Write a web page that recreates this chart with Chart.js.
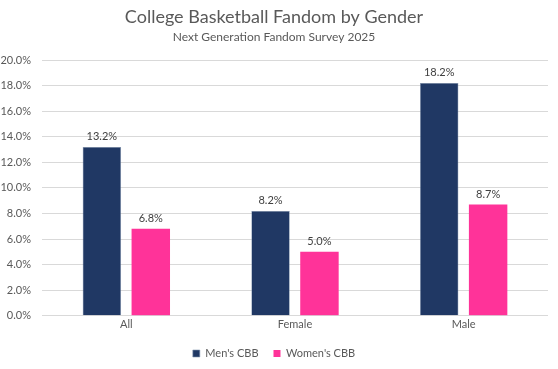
<!DOCTYPE html>
<html>
<head>
<meta charset="utf-8">
<script src="https://cdn.jsdelivr.net/npm/chart.js@4"></script>
<style>
  html, body { margin: 0; padding: 0; background: #fff; }
  #wrap { width: 558px; height: 369px; }
</style>
</head>
<body>
<div id="wrap"><canvas id="myChart"></canvas></div>
<script>
const groups = ['All', 'Female', 'Male'];
const mensCBB = [13.2, 8.2, 18.2];
const womensCBB = [6.8, 5.0, 8.7];
const yTicks = [0, 2, 4, 6, 8, 10, 12, 14, 16, 18, 20];

const grey = '#595959';
const fontName = 'Lato, "Open Sans", sans-serif';

// draws the % value above each bar
const barLabels = {
  id: 'barLabels',
  afterDatasetsDraw(chart) {
    const ctx = chart.ctx;
    ctx.save();
    ctx.font = '11px ' + fontName;
    ctx.fillStyle = '#404040';
    ctx.textAlign = 'center';
    ctx.textBaseline = 'bottom';
    chart.data.datasets.forEach((ds, i) => {
      chart.getDatasetMeta(i).data.forEach((bar, j) => {
        ctx.fillText(ds.data[j].toFixed(1) + '%', bar.x, bar.y - 5);
      });
    });
    ctx.restore();
  }
};

const data = {
  labels: groups,
  datasets: [{
    label: "Men's CBB",
    data: mensCBB,
    backgroundColor: '#203864',
    borderColor: '#8497b0',
    borderWidth: 0.6,
    categoryPercentage: 0.58,
    barPercentage: 0.786
  }, {
    label: "Women's CBB",
    data: womensCBB,
    backgroundColor: '#ff3399',
    categoryPercentage: 0.58,
    barPercentage: 0.786
  }]
};

const config = {
  type: 'bar',
  data: data,
  plugins: [barLabels],
  options: {
    responsive: true,
    maintainAspectRatio: false,
    animation: false,
    layout: { padding: { left: 0, right: 10, top: 4, bottom: 0 } },
    plugins: {
      title: {
        display: true,
        text: 'College Basketball Fandom by Gender',
        color: grey,
        font: { family: fontName, size: 18, weight: 'normal' },
        padding: { top: 2, bottom: 2 }
      },
      subtitle: {
        display: true,
        text: 'Next Generation Fandom Survey 2025',
        color: grey,
        font: { family: fontName, size: 12, weight: 'normal' },
        padding: { top: 0, bottom: 16 }
      },
      legend: {
        position: 'bottom',
        labels: {
          color: grey,
          font: { family: fontName, size: 11 },
          boxWidth: 7,
          boxHeight: 7,
          padding: 15
        }
      },
      tooltip: { enabled: false }
    },
    scales: {
      x: {
        grid: { display: false, drawTicks: false },
        border: { display: false },
        ticks: { color: grey, font: { family: fontName, size: 11 }, padding: 2 }
      },
      y: {
        min: 0,
        max: 20,
        afterFit(scale) { scale.width = 42; },
        afterBuildTicks(scale) { scale.ticks = yTicks.map(v => ({ value: v })); },
        grid: { color: '#d9d9d9', drawTicks: false },
        border: { display: false },
        ticks: {
          color: grey,
          font: { family: fontName, size: 11 },
          padding: 11,
          callback: v => v.toFixed(1) + '%'
        }
      }
    }
  }
};

const ctx = document.getElementById('myChart');
const myChart = new Chart(ctx, config);
</script>
</body>
</html>
